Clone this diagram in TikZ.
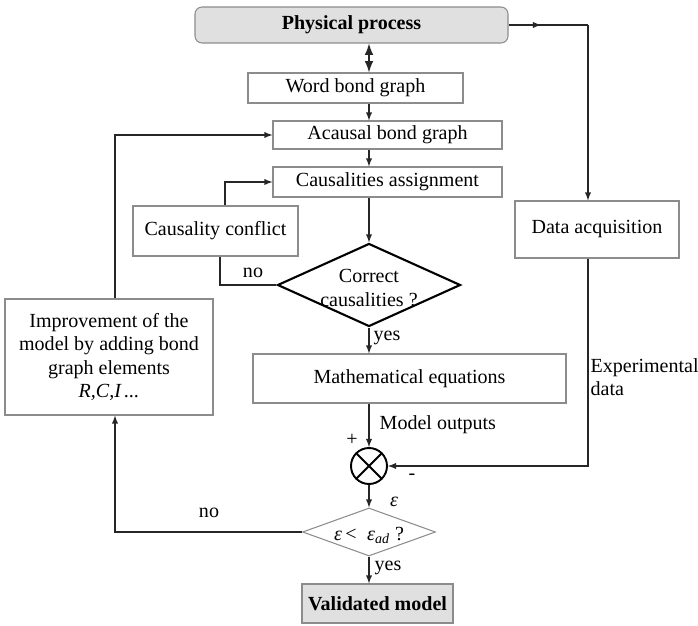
\documentclass[tikz,border=0pt]{standalone}
\usepackage{fontspec}
\setmainfont{Liberation Serif}
\usetikzlibrary{shapes.geometric,decorations.markings}

\begin{document}
\begin{tikzpicture}[
	every node/.style={font=\fontsize{11.4}{13.2}\selectfont},
	box/.style={draw=black!45,semithick,inner sep=0pt},
	flow/.style={-latex,semithick,black!85},
	decision/.style={diamond,inner sep=0pt},
	midarrow/.style={semithick,black!85,decoration={markings,mark=at position 0.65cm with {\arrow{latex}}},postaction={decorate}}
	]
	\useasboundingbox (0,0) rectangle (13.96,12.52);
	\coordinate (col) at (7.38,0);
	\coordinate (turn) at (11.76,12.02);
	% boxes
	\node[box,rounded corners=4pt,fill=black!12,minimum width=6.26cm,minimum height=0.72cm,font=\fontsize{11.4}{13.2}\selectfont\bfseries] (pp) at (7.03,12.02) {Physical process};
	\node[box,minimum width=4.3cm,minimum height=0.6cm] (wbg) at (7.11,10.76) {Word bond graph};
	\node[box,minimum width=4.58cm,minimum height=0.56cm] (acb) at (7.75,9.82) {Acausal bond graph};
	\node[box,minimum width=4.58cm,minimum height=0.6cm] (cas) at (7.75,8.88) {Causalities assignment};
	\node[box,minimum width=3.3cm,minimum height=1cm] (ccf) at (4.31,7.9) {Causality conflict};
	\node[box,minimum width=3.28cm,minimum height=1.14cm] (dacq) at (11.94,7.93) {Data acquisition};
	\node[decision,draw=black,line width=1.2pt,minimum width=3.66cm,minimum height=1.66cm] (cc) at (7.38,6.82) {};
	\node[align=center] (cctext) at (7.38,6.76) {Correct\\causalities ?};
	\node[box,align=center,minimum width=4.16cm,minimum height=2.32cm] (imp) at (2.18,5.38) {Improvement of the\\model by adding bond\\graph elements\\\textit{R,C,I\,...}};
	\node[box,minimum width=6.26cm,minimum height=0.98cm] (math) at (8.19,4.95) {Mathematical equations};
	\node[circle,draw=black,line width=1.1pt,minimum size=0.72cm,inner sep=0pt,path picture={\draw[line width=1.1pt] (path picture bounding box.north west) -- (path picture bounding box.south east) (path picture bounding box.north east) -- (path picture bounding box.south west);}] (sum) at (7.38,3.2) {};
	\node[decision,draw=black!45,semithick,minimum width=2.66cm,minimum height=0.96cm] (ed) at (7.38,1.88) {};
	\node (edtext) at (7.38,1.82) {\textit{ε}\,<\; \textit{ε}\textsubscript{\textit{ad}} ?};
	\node[box,fill=black!12,minimum width=3.02cm,minimum height=0.78cm,font=\fontsize{11.4}{13.2}\selectfont\bfseries] (val) at (7.55,0.45) {Validated model};
	% labels
	\node (yes1) at (7.74,5.76) {yes};
	\node (yes2) at (7.76,1.16) {yes};
	\node (no1) at (5.06,7.06) {no};
	\node (no2) at (4.18,2.26) {no};
	\node[anchor=west] (mout) at (7.47,4.02) {Model outputs};
	\node (eps) at (7.88,2.48) {\textit{ε}};
	\node (plus) at (7.04,3.72) {+};
	\node (minus) at (8.24,2.98) {-};
	\node[anchor=west,align=left] (expd) at (11.69,4.97) {Experimental\\data};
	% connectors
	\draw[midarrow] (pp.east) -- (turn);
	\draw[flow] (turn) -- (dacq.north -| turn);
	\draw[latex-latex,line width=1.2pt,black!85] (pp.south -| col) -- (wbg.north -| col);
	\draw[flow] (wbg.south -| col) -- (acb.north -| col);
	\draw[flow] (acb.south -| col) -- (cas.north -| col);
	\draw[flow] (cas.south -| col) -- (cc.north);
	\draw[flow] (cc.south) -- (math.north -| col);
	\draw[flow] (math.south -| col) -- (sum.north);
	\draw[flow] (sum.south) -- (ed.north);
	\draw[flow] (ed.south) -- (val.north -| col);
	\draw[flow] (dacq.south -| turn) |- (sum.east);
	\draw[flow] (ed.west) -| ([xshift=1.2mm]imp.south);
	\draw[flow] ([xshift=1.2mm]imp.north) |- (acb.west);
	\draw[flow] ([xshift=1.9mm]ccf.north) |- (cas.west);
	\draw[semithick,black!85] (cc.west) -| ([xshift=0.9mm]ccf.south);
\end{tikzpicture}
\end{document}
